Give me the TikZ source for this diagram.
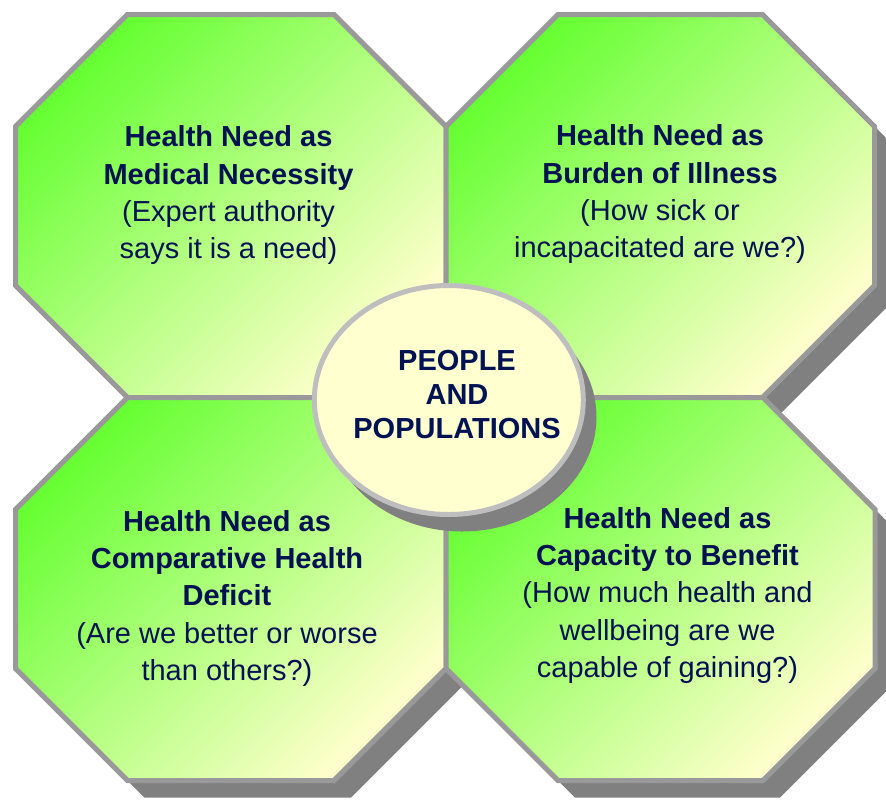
\documentclass[tikz,border=0pt]{standalone}
\usepackage{fontspec}
\setmainfont{Liberation Sans}
\definecolor{hgreen}{RGB}{102,255,51}
\definecolor{hyellow}{RGB}{255,255,204}
\definecolor{octborder}{RGB}{153,153,153}
\definecolor{ellborder}{RGB}{190,190,190}
\definecolor{shadowgray}{RGB}{128,128,128}
\definecolor{ellfill}{RGB}{255,255,208}
\definecolor{navytext}{RGB}{0,18,82}
\newcommand\octpath[4]{(#1+112,#2) -- (#3-112,#2) -- (#3,#2+112) -- (#3,#4-112) -- (#3-112,#4) -- (#1+112,#4) -- (#1,#4-112) -- (#1,#2+112) -- cycle}
\tikzset{
  octshadow/.style={fill=shadowgray, shift={(17,17)}},
  octbody/.style={top color=hgreen, bottom color=hyellow, shading angle=45, draw=octborder, line width=5pt, line join=miter},
  octtext/.style={anchor=north, align=center, inner sep=0pt, text=navytext, font=\fontsize{29}{37.3}\selectfont},
  ellshadow/.style={fill=shadowgray},
  ellbody/.style={fill=ellfill, draw=ellborder, line width=5pt},
  elltext/.style={anchor=north, align=center, inner sep=0pt, text=navytext, font=\fontsize{29}{34}\selectfont\bfseries}
}
\begin{document}
\begin{tikzpicture}[x=1pt,y=-1pt]
\useasboundingbox (0,0) rectangle (886,801);
\fill[white] (0,0) rectangle (886,801);
% shadows
\fill[octshadow] \octpath{15.5}{14.5}{446}{397.5};
\fill[octshadow] \octpath{446}{14.5}{874.5}{397.5};
\fill[octshadow] \octpath{15.5}{397.5}{446}{780.5};
\fill[octshadow] \octpath{446}{397.5}{875}{780.5};
% octagons
\shade[octbody] \octpath{15.5}{14.5}{446}{397.5};
\shade[octbody] \octpath{446}{14.5}{874.5}{397.5};
\shade[octbody] \octpath{15.5}{397.5}{446}{780.5};
\shade[octbody] \octpath{446}{397.5}{875}{780.5};
% texts
\node[octtext] (tl) at (228.5,125.5) {\textbf{Health Need as}\\\textbf{Medical Necessity}\\(Expert authority\\says it is a need)};
\node[octtext] (tr) at (660,124.5) {\textbf{Health Need as}\\\textbf{Burden of Illness}\\(How sick or\\incapacitated are we?)};
\node[octtext] (bl) at (227,510) {\textbf{Health Need as}\\\textbf{Comparative Health}\\\textbf{Deficit}\\(Are we better or worse\\than others?)};
\node[octtext] (br) at (667.5,507) {\textbf{Health Need as}\\\textbf{Capacity to Benefit}\\(How much health and\\wellbeing are we\\capable of gaining?)};
% central ellipse
\fill[ellshadow] (462,417) ellipse [x radius=134.5, y radius=114.5];
\draw[ellbody] (448.8,400) ellipse [x radius=134.5, y radius=114.5];
\node[elltext] (center) at (457,350) {PEOPLE\\AND\\POPULATIONS};
\end{tikzpicture}
\end{document}
